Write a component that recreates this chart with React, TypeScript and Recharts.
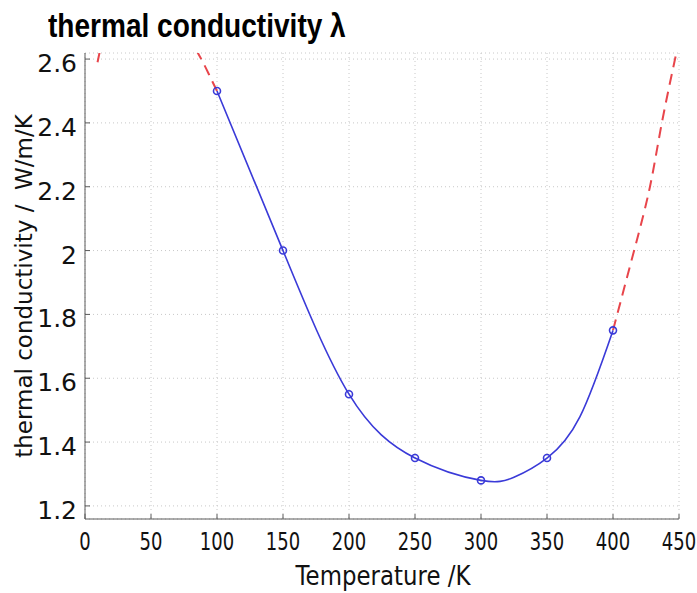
import React from "react";
import { ComposedChart, Line, XAxis, YAxis, CartesianGrid } from "recharts";

// measured points (blue, with markers)
const temps = [100, 150, 200, 250, 300, 350, 400];
const conductivity = [2.5, 2.0, 1.55, 1.35, 1.28, 1.35, 1.75];

const fitT = [100, 150, 200, 250, 300, 325, 350, 375, 400];
const fitK = [2.5, 2.0, 1.55, 1.35, 1.28, 1.29, 1.35, 1.48, 1.75];

// red dashed extrapolation
const tailT = [9.5, 13];
const tailK = [2.59, 2.66];
const lowT = [84, 90, 94.7, 100];
const lowK = [2.63, 2.585, 2.545, 2.5];
const highT = [400, 416, 428, 437, 447, 450];
const highK = [1.75, 2.0, 2.2, 2.4, 2.6, 2.66];

const xTicks = [0, 50, 100, 150, 200, 250, 300, 350, 400, 450];
const yTicks = [1.2, 1.4, 1.6, 1.8, 2, 2.2, 2.4, 2.6];

const zip = (t: number[], k: number[]) => t.map((T, i) => ({ T, k: k[i] }));

const BLUE = "#3a3ad8";
const RED = "#e8454b";
const FRAME = "#5a5a5a";
const FONT = "DejaVu Sans";

function XTick({ x, y, payload }: any) {
  return (
    <text transform={`translate(${x},${y}) scale(0.72,1)`} textAnchor="middle" dy="0.71em" fontSize={25} fontFamily={FONT} fill="#111">
      {payload.value}
    </text>
  );
}

function YTick({ x, y, payload }: any) {
  return (
    <text x={x} y={y + 4} textAnchor="end" dy="0.36em" fontSize={25} fontFamily={FONT} fill="#111">
      {payload.value}
    </text>
  );
}

export default function App() {
  const dash = { stroke: RED, strokeWidth: 2, strokeDasharray: "11 7", dot: false, isAnimationActive: false, type: "natural" as const };
  return (
    <div style={{ position: "absolute", left: 0, top: 0, width: 697, height: 593, background: "#fff" }}>
      <div
        style={{
          position: "absolute", left: 48, top: 9, fontFamily: "Liberation Sans", fontWeight: "bold",
          fontSize: 33, lineHeight: 1, whiteSpace: "nowrap", transformOrigin: "0 0", transform: "scaleX(0.85)", color: "#000",
        }}
      >
        thermal conductivity λ
      </div>
      <ComposedChart width={697} height={593} margin={{ top: 53, right: 18, bottom: 0, left: 0 }}>
        <CartesianGrid stroke="#c8c8c8" strokeDasharray="1 3" />
        <XAxis
          dataKey="T" type="number" domain={[0, 450]} ticks={xTicks} height={74}
          axisLine={{ stroke: FRAME }} tickLine={{ stroke: FRAME }} tickSize={-5} tickMargin={18}
          tick={<XTick />} interval={0} allowDataOverflow
        />
        <XAxis
          xAxisId="top" orientation="top" type="number" domain={[0, 450]} ticks={xTicks} height={0}
          mirror axisLine={{ stroke: FRAME }} tickLine={{ stroke: FRAME }} tickSize={5} tick={false}
        />
        <YAxis
          type="number" domain={[1.159, 2.619]} ticks={yTicks} width={85}
          axisLine={{ stroke: FRAME }} tickLine={{ stroke: FRAME }} tickSize={-5} tickMargin={13}
          tick={<YTick />} interval={0} allowDataOverflow
        />
        <YAxis
          yAxisId="right" orientation="right" type="number" domain={[1.159, 2.619]} ticks={yTicks} width={0}
          mirror axisLine={{ stroke: FRAME }} tickLine={{ stroke: FRAME }} tickSize={5} tick={false}
        />
        <Line data={zip(tailT, tailK)} dataKey="k" {...dash} />
        <Line data={zip(lowT, lowK)} dataKey="k" {...dash} />
        <Line data={zip(highT, highK)} dataKey="k" {...dash} />
        <Line
          data={zip(fitT, fitK)} dataKey="k" type="natural" stroke={BLUE} strokeWidth={1.6}
          dot={false} isAnimationActive={false}
        />
        <Line
          data={zip(temps, conductivity)} dataKey="k" stroke="none"
          dot={{ r: 3.5, stroke: BLUE, strokeWidth: 1.6, fill: "none" }} isAnimationActive={false}
        />
      </ComposedChart>
      <div
        style={{
          position: "absolute", left: 383, top: 563, fontFamily: FONT, fontSize: 26, lineHeight: 1,
          whiteSpace: "nowrap", transformOrigin: "0 0", transform: "scaleX(0.88) translateX(-50%)", color: "#111",
        }}
      >
        Temperature /K
      </div>
      <div
        style={{
          position: "absolute", left: 24, top: 286, fontFamily: FONT, fontSize: 23, lineHeight: 1,
          whiteSpace: "pre", transformOrigin: "0 0", transform: "rotate(-90deg) translate(-50%, -50%)", color: "#111",
        }}
      >
        {"thermal conductivity /  W/m/K"}
      </div>
    </div>
  );
}
